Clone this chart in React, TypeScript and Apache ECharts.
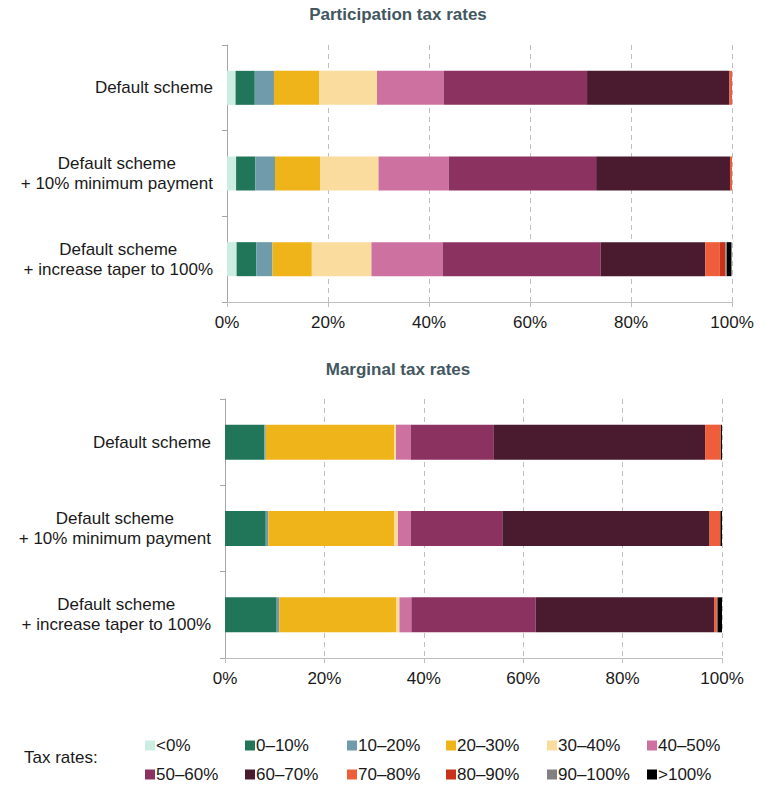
import React, { useEffect, useRef } from "react";
import * as echarts from "echarts";

const schemes = [
  "Default scheme",
  "Default scheme\n+ 10% minimum payment",
  "Default scheme\n+ increase taper to 100%",
];

const bands = [
  "<0%", "0–10%", "10–20%", "20–30%", "30–40%", "40–50%",
  "50–60%", "60–70%", "70–80%", "80–90%", "90–100%", ">100%",
];

const bandColors = [
  "#ccede1", "#217558", "#6f9bab", "#f0b41b", "#f9dc9e", "#cc71a0",
  "#8c3261", "#4a1a2f", "#ef5e3a", "#c8321a", "#808080", "#000000",
];

// Participation tax rates (% of people in each band), one array per scheme
const participationDefault = [1.7, 3.8, 3.8, 9.0, 11.4, 13.2, 28.4, 28.2, 0.5, 0, 0, 0];
const participationMinPayment = [1.8, 3.8, 3.9, 9.0, 11.5, 13.9, 29.2, 26.5, 0.4, 0, 0, 0];
const participationTaper = [1.9, 3.9, 3.2, 7.8, 11.8, 14.1, 31.3, 20.7, 2.9, 1.1, 0.3, 0.9];

// Marginal tax rates
const marginalDefault = [0, 7.9, 0.3, 25.8, 0.4, 3.0, 16.7, 42.5, 3.1, 0.1, 0, 0.2];
const marginalMinPayment = [0, 8.2, 0.5, 25.3, 0.8, 2.6, 18.4, 41.7, 2.1, 0.1, 0, 0.3];
const marginalTaper = [0, 10.4, 0.5, 23.6, 0.6, 2.4, 25.0, 35.9, 0.5, 0.1, 0.1, 0.9];

const xTicks = [0, 20, 40, 60, 80, 100];

const participation = [participationDefault, participationMinPayment, participationTaper];
const marginal = [marginalDefault, marginalMinPayment, marginalTaper];

const FONT = "'Liberation Sans', Arial, sans-serif";
const TEXT = "#1a1a1a";

export default function App() {
  const ref = useRef<HTMLDivElement>(null);

  useEffect(() => {
    if (!ref.current) return;
    const chart = echarts.init(ref.current, undefined, { renderer: "svg" });

    const catLabel = (v: string) =>
      v.split("\n").map((l) => `{a|${l}}`).join("\n");

    const makeX = (gridIndex: number) => ({
      type: "value",
      gridIndex,
      min: xTicks[0],
      max: xTicks[xTicks.length - 1],
      interval: 20,
      axisLine: { show: true, lineStyle: { color: "#bfbfbf" } },
      axisTick: { show: true, length: 5, lineStyle: { color: "#bfbfbf" } },
      splitLine: { show: true, lineStyle: { color: "#bfbfbf", type: [5, 4], width: 1 } },
      axisLabel: {
        formatter: "{value}%",
        fontSize: 17,
        fontFamily: FONT,
        color: TEXT,
        margin: 12,
      },
    });

    const makeY = (gridIndex: number) => ({
      type: "category",
      gridIndex,
      data: schemes,
      inverse: true,
      axisLine: { show: true, lineStyle: { color: "#a6a6a6" } },
      axisTick: { show: true, length: 5, lineStyle: { color: "#a6a6a6" } },
      axisLabel: {
        margin: 14,
        formatter: catLabel,
        rich: {
          a: { align: "center", fontSize: 17, fontFamily: FONT, color: TEXT, lineHeight: 20 },
        },
      },
    });

    const series: any[] = [];
    bands.forEach((b, i) => {
      series.push({
        name: b,
        type: "bar",
        stack: "p",
        xAxisIndex: 0,
        yAxisIndex: 0,
        barWidth: 34,
        itemStyle: { color: bandColors[i] },
        data: participation.map((arr) => arr[i]),
      });
      series.push({
        name: b,
        type: "bar",
        stack: "m",
        xAxisIndex: 1,
        yAxisIndex: 1,
        barWidth: 35,
        itemStyle: { color: bandColors[i] },
        data: marginal.map((arr) => arr[i]),
      });
    });

    const colX = [145, 245, 347, 446, 547, 647];
    const rowY = [737, 766];
    const legends = bands.map((b, i) => ({
      data: [b],
      left: colX[i % 6],
      top: rowY[Math.floor(i / 6)],
      itemWidth: 10,
      itemHeight: 10,
      itemGap: 0,
      padding: 0,
      icon: "rect",
      selectedMode: false,
      textStyle: { fontSize: 17, fontFamily: FONT, color: TEXT, padding: [0, 0, 0, -4] },
    }));

    chart.setOption({
      animation: false,
      backgroundColor: "#ffffff",
      graphic: [
        {
          type: "text",
          x: 398,
          y: 14,
          style: {
            text: "Participation tax rates",
            textAlign: "center",
            textVerticalAlign: "middle",
            font: `bold 17px ${FONT}`,
            fill: "#435761",
          },
        },
        {
          type: "text",
          x: 398,
          y: 369,
          style: {
            text: "Marginal tax rates",
            textAlign: "center",
            textVerticalAlign: "middle",
            font: `bold 17px ${FONT}`,
            fill: "#435761",
          },
        },
        {
          type: "text",
          x: 24,
          y: 757,
          style: {
            text: "Tax rates:",
            textAlign: "left",
            textVerticalAlign: "middle",
            font: `17px ${FONT}`,
            fill: TEXT,
          },
        },
      ],
      legend: legends,
      grid: [
        { left: 227, right: 39, top: 45, height: 257 },
        { left: 225, right: 49, top: 399, height: 259 },
      ],
      xAxis: [makeX(0), makeX(1)],
      yAxis: [makeY(0), makeY(1)],
      series,
    });

    return () => chart.dispose();
  }, []);

  return <div ref={ref} style={{ width: 771, height: 790, margin: -8 }} />;
}
